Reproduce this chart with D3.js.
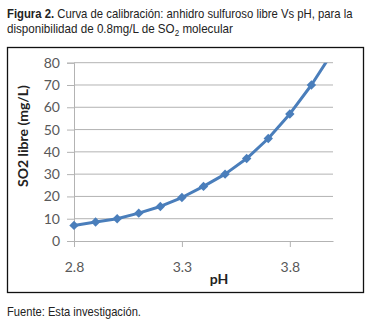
<!DOCTYPE html>
<html>
<head>
<meta charset="utf-8">
<script src="https://cdn.jsdelivr.net/npm/d3@7"></script>
<style>
  body { margin: 0; background: #fff; }
  .cap { font-family: 'Liberation Sans', Arial, sans-serif; font-size: 13px; fill: #222; }
  .ax text { font-family: Lato, 'Open Sans', sans-serif; font-size: 14px; fill: #595959; }
</style>
</head>
<body>
<svg id="chart" width="371" height="323"></svg>
<script>
// data
const ph = [2.8, 2.9, 3.0, 3.1, 3.2, 3.3, 3.4, 3.5, 3.6, 3.7, 3.8, 3.9, 4.0];
const so2 = [7, 8.5, 10, 12.5, 15.5, 19.5, 24.5, 30, 37, 46, 57, 70, 85];
const xTicks = [2.8, 3.3, 3.8];
const yTicks = [0, 10, 20, 30, 40, 50, 60, 70, 80];

const svg = d3.select('#chart');

// plot area
const plotL = 74, plotR = 333, plotT = 62.7, plotB = 241;

const x = d3.scaleLinear().domain([2.8, 4.0]).range([plotL, plotR]);
const y = d3.scaleLinear().domain([0, 80]).range([plotB, plotT]);

// caption lines: regular font squeezed horizontally to look like a narrow face
function narrow(yPos, width) {
  const g = svg.append('g');
  const t = g.append('text').attr('class', 'cap').attr('x', 0).attr('y', yPos);
  return { g, t, fit() {
    const w = t.node().getComputedTextLength();
    g.attr('transform', `translate(7,0) scale(${width / w},1)`);
  } };
}

const c1 = narrow(18, 346);
c1.t.append('tspan').attr('font-weight', 'bold').text('Figura 2.');
c1.t.append('tspan').text(' Curva de calibración: anhidro sulfuroso libre Vs pH, para la');
c1.fit();

const c2 = narrow(33, 226);
c2.t.append('tspan').text('disponibilidad de 0.8mg/L de SO');
c2.t.append('tspan').attr('font-size', '9px').attr('dy', 3).text('2');
c2.t.append('tspan').attr('dy', -3).text(' molecular');
c2.fit();

const c3 = narrow(316, 134);
c3.t.text('Fuente: Esta investigación.');
c3.fit();

// chart frame
svg.append('rect')
  .attr('x', 7.5).attr('y', 47.5)
  .attr('width', 356).attr('height', 245)
  .attr('fill', 'none')
  .attr('stroke', '#111')
  .attr('stroke-width', 1.3);

// gridlines
svg.append('g')
  .selectAll('line')
  .data(yTicks.filter(d => d > 0))
  .join('line')
  .attr('x1', plotL).attr('x2', plotR)
  .attr('y1', d => y(d)).attr('y2', d => y(d))
  .attr('stroke', '#b3b3b3')
  .attr('stroke-width', 1);

// y axis
const yAxis = svg.append('g')
  .attr('class', 'ax')
  .attr('transform', `translate(${plotL},0)`)
  .call(d3.axisLeft(y).tickValues(yTicks).tickSize(7).tickPadding(7));
yAxis.select('.domain').attr('stroke', '#b3b3b3');
yAxis.selectAll('.tick line').attr('stroke', '#b3b3b3');

// x axis
const xAxis = svg.append('g')
  .attr('class', 'ax')
  .attr('transform', `translate(0,${plotB})`)
  .call(d3.axisBottom(x).tickValues(xTicks).tickFormat(d3.format('.1f')).tickSize(6).tickPadding(15).tickSizeOuter(0));
xAxis.select('.domain').attr('stroke', '#b3b3b3');
xAxis.selectAll('.tick line').attr('stroke', '#b3b3b3');

// axis titles
svg.append('text')
  .attr('transform', 'translate(28,136) rotate(-90)')
  .attr('text-anchor', 'middle')
  .style('font-family', 'Lato, sans-serif')
  .style('font-size', '14px')
  .style('font-weight', 'bold')
  .style('fill', '#222')
  .text('SO2 libre (mg/L)');

svg.append('text')
  .attr('x', 219).attr('y', 284)
  .attr('text-anchor', 'middle')
  .style('font-family', 'Lato, sans-serif')
  .style('font-size', '14px')
  .style('font-weight', 'bold')
  .style('fill', '#222')
  .text('pH');

// series
svg.append('clipPath').attr('id', 'plot')
  .append('rect')
  .attr('x', plotL - 6).attr('y', plotT)
  .attr('width', plotR - plotL + 12).attr('height', plotB - plotT + 8);

const pts = ph.map((d, i) => ({ x: d, y: so2[i] }));

const g = svg.append('g').attr('clip-path', 'url(#plot)');

g.append('path')
  .datum(pts)
  .attr('fill', 'none')
  .attr('stroke', '#4a7ebb')
  .attr('stroke-width', 3)
  .attr('stroke-linejoin', 'round')
  .attr('d', d3.line().x(d => x(d.x)).y(d => y(d.y)));

g.selectAll('.pt')
  .data(pts)
  .join('path')
  .attr('class', 'pt')
  .attr('d', d3.symbol(d3.symbolSquare, 44))
  .attr('transform', d => `translate(${x(d.x)},${y(d.y)}) rotate(45)`)
  .attr('fill', '#4a7ebb');
</script>
</body>
</html>
